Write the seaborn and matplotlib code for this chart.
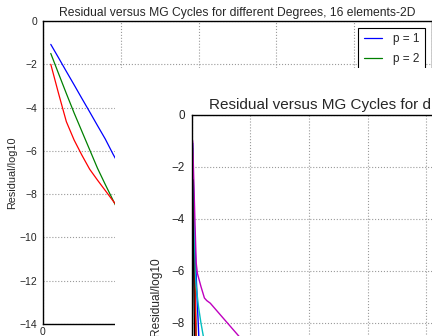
import matplotlib
matplotlib.use("Agg")
import matplotlib.pyplot as plt
import seaborn as sns
import pandas as pd
from matplotlib.patches import Rectangle

# ---------------- data: main chart (16 elements) ----------------
cycles = [1, 2, 3, 4, 5, 6, 7, 8, 9, 10]
res_p1 = [-1.08, -1.70, -2.33, -2.95, -3.58, -4.20, -4.83, -5.45, -6.15, -6.80]
res_p2 = [-1.50, -2.43, -3.35, -4.25, -5.10, -5.95, -6.80, -7.55, -8.28, -9.00]
res_p3 = [-2.00, -3.35, -4.65, -5.50, -6.20, -6.85, -7.35, -7.83, -8.31, -8.79]
labels1 = ["p = 1", "p = 2", "p = 3"]
colors1 = ["#0000ff", "#008000", "#ff0000"]
title1 = "Residual versus MG Cycles for different Degrees, 16 elements-2D"
ylabel = "Residual/log10"
xticks1 = [0, 10, 20, 30, 40, 50]
yticks = [0, -2, -4, -6, -8, -10, -12, -14]

# ---------------- data: overlaid second chart ----------------
b_x = [1, 2, 3, 4, 5, 6, 7]
b_y = [-1.1, -3.8, -5.0, -6.2, -7.3, -8.3, -9.4]
g_x = [1, 2, 3, 4, 5]
g_y = [-1.3, -4.2, -6.5, -8.6, -10.5]
r_x = [1, 2, 3, 4, 5]
r_y = [-1.5, -4.5, -6.8, -8.9, -11.0]
c_x = [1, 2, 3, 4, 6, 8, 10, 12]
c_y = [-1.2, -3.5, -6.0, -6.6, -7.4, -8.0, -8.5, -9.0]
m_x = [1, 2, 3, 4, 5, 8, 11, 13, 16, 25, 40, 55]
m_y = [-1.0, -2.6, -4.2, -5.7, -6.1, -6.6, -7.05, -7.15, -7.25, -7.72, -8.5, -9.25]
k_x = [1, 2, 3, 4]
k_y = [-2.5, -6.5, -10.0, -13.0]
colors2 = ["#0000ff", "#008000", "#ff0000", "#00bfbf", "#bf00bf", "#000000"]
xticks2 = [0, 50, 100, 150, 200, 250, 300, 350, 400]

sns.set_theme(style="white", rc={
    "axes.edgecolor": "black",
    "axes.linewidth": 1.0,
    "grid.color": "#9a9a9a",
    "grid.linestyle": ":",
    "grid.linewidth": 0.8,
    "xtick.major.size": 0,
    "ytick.major.size": 0,
})
plt.rcParams["font.family"] = ["Liberation Sans", "DejaVu Sans"]

W, H = 432, 336
fig = plt.figure(figsize=(W / 100, H / 100), dpi=100)
fig.patch.set_facecolor("white")


def fpos(x0, y0, x1, y1):
    return [x0 / W, 1 - y1 / H, (x1 - x0) / W, (y1 - y0) / H]


# ---------------- main axes ----------------
ax1 = fig.add_axes(fpos(43, 21, 432, 324), zorder=0)
df1 = pd.DataFrame({
    "cycle": cycles * 3,
    "res": res_p1 + res_p2 + res_p3,
    "p": [labels1[0]] * len(cycles) + [labels1[1]] * len(cycles) + [labels1[2]] * len(cycles),
})
sns.lineplot(data=df1, x="cycle", y="res", hue="p", hue_order=labels1,
             palette=colors1, linewidth=0.9, ax=ax1, legend=True)
ax1.set_xlim(0, 50)
ax1.set_ylim(-14, 0)
ax1.set_xticks(xticks1)
ax1.set_yticks(yticks)
ax1.set_xticklabels([str(v) for v in xticks1], fontsize=7.5)
ax1.set_yticklabels([str(v).replace("-", "\u2212") for v in yticks], fontsize=7.5)
ax1.tick_params(axis="y", pad=4)
ax1.tick_params(axis="x", pad=2)
ax1.grid(True)
ax1.set_xlabel("")
ax1.set_ylabel(ylabel, fontsize=7.8, labelpad=2)
ax1.set_title(title1, fontsize=8.7, pad=3.5)
leg = ax1.legend(loc="upper right", fontsize=8.5, frameon=True, fancybox=False,
                 edgecolor="black", framealpha=1, handlelength=1.6,
                 handletextpad=0.9, labelspacing=0.64, borderaxespad=0.6,
                 borderpad=0.45)
leg.get_frame().set_linewidth(0.8)

# ---------------- white cover of the second figure ----------------
fig.add_artist(Rectangle((115 / W, 0), 1.0, 1 - 68 / H, transform=fig.transFigure,
                         facecolor="white", edgecolor="none", zorder=1))

# ---------------- second axes ----------------
px_per_unit = 1.174
xmax2 = 410
ax2 = fig.add_axes(fpos(191.5, 114.7, 191.5 + px_per_unit * xmax2, 114.7 + 26 * 14), zorder=2)
series2 = [(b_x, b_y), (g_x, g_y), (r_x, r_y), (c_x, c_y), (m_x, m_y), (k_x, k_y)]
for (xs, ys), col in zip(series2, colors2):
    sns.lineplot(x=xs, y=ys, color=col, linewidth=1.0, ax=ax2, legend=False)
ax2.set_xlim(0, xmax2)
ax2.set_ylim(-14, 0)
ax2.set_xticks(xticks2)
ax2.set_yticks(yticks)
ax2.set_xticklabels([str(v) for v in xticks2], fontsize=8.4)
ax2.set_yticklabels([str(v).replace("-", "\u2212") for v in yticks], fontsize=8.4)
ax2.tick_params(axis="y", pad=5)
ax2.grid(True)
ax2.set_ylabel(ylabel, fontsize=8.6, labelpad=2)
ax2.set_title(title1, fontsize=11.0, pad=4)

fig.savefig("out.png", dpi=100)
